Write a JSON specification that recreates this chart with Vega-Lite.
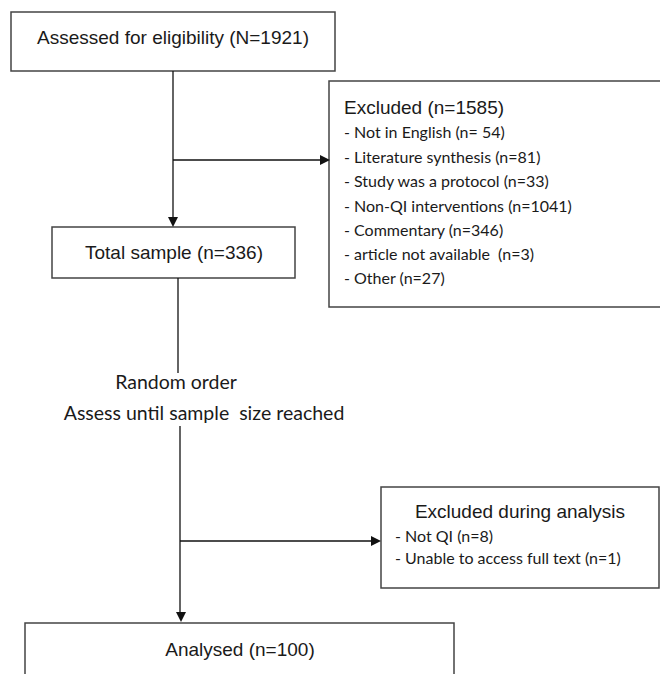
{
  "$schema": "https://vega.github.io/schema/vega-lite/v6.json",
  "width": 660,
  "height": 674,
  "padding": 0,
  "autosize": {"type": "none"},
  "background": "white",
  "config": {"view": {"stroke": null}},
  "datasets": {
    "boxes": [
      {"name": "Assessed", "x": 11, "x2": 335, "y": 12, "y2": 71},
      {"name": "Excluded", "x": 329, "x2": 700, "y": 81, "y2": 307},
      {"name": "Total", "x": 52, "x2": 295, "y": 227, "y2": 278},
      {"name": "ExcludedAnalysis", "x": 381, "x2": 659, "y": 487, "y2": 588},
      {"name": "Analysed", "x": 25, "x2": 454, "y": 623, "y2": 700}
    ],
    "lines": [
      {"x": 173, "x2": 173, "y": 71, "y2": 220},
      {"x": 173, "x2": 322, "y": 160, "y2": 160},
      {"x": 178, "x2": 178, "y": 278, "y2": 373},
      {"x": 180, "x2": 180, "y": 426, "y2": 615},
      {"x": 180, "x2": 373, "y": 541, "y2": 541}
    ],
    "arrows": [
      {"x": 173, "y": 222, "dir": "down"},
      {"x": 325, "y": 160, "dir": "right"},
      {"x": 181, "y": 617, "dir": "down"},
      {"x": 376, "y": 541, "dir": "right"}
    ],
    "arialCenter": [
      {"x": 173, "y": 44, "label": "Assessed for eligibility (N=1921)"},
      {"x": 174, "y": 259, "label": "Total sample (n=336)"},
      {"x": 520, "y": 518, "label": "Excluded during analysis"},
      {"x": 240, "y": 656, "label": "Analysed (n=100)"}
    ],
    "arialLeft": [
      {"x": 344, "y": 114, "label": "Excluded (n=1585)"}
    ],
    "bullets": [
      {"x": 344, "y": 138, "label": "- Not in English (n= 54)"},
      {"x": 344, "y": 163, "label": "- Literature synthesis (n=81)"},
      {"x": 344, "y": 187, "label": "- Study was a protocol (n=33)"},
      {"x": 344, "y": 212, "label": "- Non-QI interventions (n=1041)"},
      {"x": 344, "y": 236, "label": "- Commentary (n=346)"},
      {"x": 344, "y": 260, "label": "- article not available\u00a0 (n=3)"},
      {"x": 344, "y": 284, "label": "- Other (n=27)"},
      {"x": 395, "y": 542, "label": "- Not QI (n=8)"},
      {"x": 395, "y": 564, "label": "- Unable to access full text (n=1)"}
    ],
    "notes": [
      {"x": 176, "y": 389, "label": "Random order"},
      {"x": 204, "y": 420, "label": "Assess until sample\u00a0 size reached"}
    ]
  },
  "layer": [
    {
      "data": {"name": "boxes"},
      "mark": {"type": "rect", "fill": "white", "stroke": "#444444", "strokeWidth": 1.5, "clip": true},
      "encoding": {
        "x": {"field": "x", "type": "quantitative", "scale": {"domain": [0, 660], "nice": false, "zero": false}, "axis": null},
        "x2": {"field": "x2"},
        "y": {"field": "y", "type": "quantitative", "scale": {"domain": [0, 674], "nice": false, "zero": false, "reverse": true}, "axis": null},
        "y2": {"field": "y2"}
      }
    },
    {
      "data": {"name": "lines"},
      "mark": {"type": "rule", "color": "#111111", "strokeWidth": 1.3},
      "encoding": {
        "x": {"field": "x", "type": "quantitative"},
        "x2": {"field": "x2"},
        "y": {"field": "y", "type": "quantitative"},
        "y2": {"field": "y2"}
      }
    },
    {
      "data": {"name": "arrows"},
      "mark": {"type": "point", "filled": true, "color": "#111111", "opacity": 1, "size": 100, "strokeWidth": 0},
      "encoding": {
        "x": {"field": "x", "type": "quantitative"},
        "y": {"field": "y", "type": "quantitative"},
        "shape": {"field": "dir", "type": "nominal", "scale": {"domain": ["down", "right"], "range": ["M-1,-1L1,-1L0,1Z", "M-1,-1L1,0L-1,1Z"]}, "legend": null}
      }
    },
    {
      "data": {"name": "arialCenter"},
      "mark": {"type": "text", "font": "Liberation Sans", "fontSize": 19, "align": "center", "baseline": "alphabetic", "color": "#1a1a1a"},
      "encoding": {
        "x": {"field": "x", "type": "quantitative"},
        "y": {"field": "y", "type": "quantitative"},
        "text": {"field": "label"}
      }
    },
    {
      "data": {"name": "arialLeft"},
      "mark": {"type": "text", "font": "Liberation Sans", "fontSize": 19, "align": "left", "baseline": "alphabetic", "color": "#1a1a1a"},
      "encoding": {
        "x": {"field": "x", "type": "quantitative"},
        "y": {"field": "y", "type": "quantitative"},
        "text": {"field": "label"}
      }
    },
    {
      "data": {"name": "bullets"},
      "mark": {"type": "text", "font": "Lato", "fontSize": 16, "align": "left", "baseline": "alphabetic", "color": "#1a1a1a"},
      "encoding": {
        "x": {"field": "x", "type": "quantitative"},
        "y": {"field": "y", "type": "quantitative"},
        "text": {"field": "label"}
      }
    },
    {
      "data": {"name": "notes"},
      "mark": {"type": "text", "font": "Lato", "fontSize": 19.5, "align": "center", "baseline": "alphabetic", "color": "#1a1a1a"},
      "encoding": {
        "x": {"field": "x", "type": "quantitative"},
        "y": {"field": "y", "type": "quantitative"},
        "text": {"field": "label"}
      }
    }
  ]
}
